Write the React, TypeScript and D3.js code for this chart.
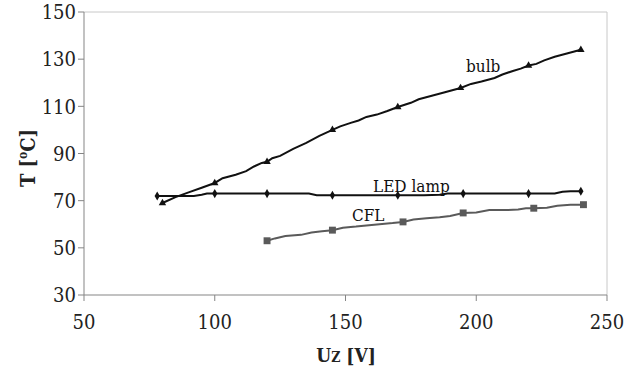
import React from "react";
import * as d3 from "d3";

const xTicks = [50, 100, 150, 200, 250];
const yTicks = [30, 50, 70, 90, 110, 130, 150];

const bulbU = [80, 85, 90, 95, 100, 103, 108, 112, 115, 118, 120, 122, 125, 130, 135, 140, 145, 148, 152, 155, 158, 162, 166, 170, 175, 178, 183, 188, 194, 198, 202, 207, 210, 214, 217, 220, 223, 226, 230, 235, 240];
const bulbT = [69, 71.5, 73.5, 75.5, 77.5, 79.5, 81, 82.5, 84.5, 86, 86.5, 88, 89, 92, 94.5, 97.5, 100, 101.5, 103, 104, 105.5, 106.5, 108, 109.7, 111.5, 113, 114.5, 116, 117.8, 119.5, 120.5, 122, 123.5, 125, 126, 127.3, 128, 129.5, 131, 132.5, 134];
const bulbMarkU = [80, 100, 120, 145, 170, 194, 220, 240];
const bulbMarkT = [69, 77.5, 86.5, 100, 109.7, 117.8, 127.3, 134];

const ledU = [78, 85, 92, 95, 97, 100, 110, 120, 130, 136, 139, 145, 155, 170, 180, 186, 189, 195, 210, 220, 230, 233, 236, 240];
const ledT = [72, 72, 72, 72.5, 73, 73, 73, 73, 73, 73, 72.3, 72.3, 72.3, 72.3, 72.3, 72.5, 73, 73, 73, 73, 73, 73.8, 74, 74];
const ledMarkU = [78, 100, 120, 145, 170, 195, 220, 240];
const ledMarkT = [72, 73, 73, 72.3, 72.3, 73, 73, 74];

const cflU = [120, 123, 127, 133, 137, 141, 145, 149, 154, 158, 163, 168, 172, 176, 181, 186, 190, 195, 200, 205, 212, 216, 219, 222, 227, 231, 236, 241];
const cflT = [53, 54, 55, 55.5, 56.5, 57, 57.5, 58.5, 59, 59.5, 60, 60.5, 61, 62, 62.5, 63, 63.5, 64.8, 65, 66, 66, 66.3, 66.8, 66.8, 67, 67.8, 68.3, 68.3];
const cflMarkU = [120, 145, 172, 195, 222, 241];
const cflMarkT = [53, 57.5, 61, 64.8, 66.8, 68.3];

const W = 632, H = 369;
const L = 84, R = 607, T = 12, B = 295;
const SERIF = "'DejaVu Serif Condensed', 'DejaVu Serif', serif";

export default function App() {
  const x = d3.scaleLinear().domain([50, 250]).range([L, R]);
  const y = d3.scaleLinear().domain([30, 150]).range([B, T]);
  const line = d3.line<[number, number]>().x(d => x(d[0])).y(d => y(d[1]));
  const zip = (a: number[], b: number[]) => a.map((v, i) => [v, b[i]] as [number, number]);
  const tri = d3.symbol().type(d3.symbolTriangle).size(24)();
  const dia = d3.symbol().type(d3.symbolDiamond).size(24)();
  const sq = d3.symbol().type(d3.symbolSquare).size(48)();

  return (
    <svg width={W} height={H} fontFamily={SERIF} fontStretch="condensed" style={{ position: "absolute", left: 0, top: 0, background: "#fff" }}>
      <rect x={0} y={0} width={W} height={H} fill="#fff" />
      <path d={`M${L},${T}H${R}V${B}`} fill="none" stroke="#c8c8c8" strokeWidth={1} />
      <line x1={L} x2={L} y1={T} y2={B} stroke="#858585" strokeWidth={1} />
      <line x1={L} x2={R} y1={B} y2={B} stroke="#858585" strokeWidth={1.2} />
      {yTicks.map(t => (
        <g key={"y" + t}>
          <line x1={L - 6} x2={L} y1={y(t)} y2={y(t)} stroke="#858585" />
          <text x={L - 8} y={y(t)} dy="0.36em" textAnchor="end" fontSize={20} fill="#222">{t}</text>
        </g>
      ))}
      {xTicks.map(t => (
        <g key={"x" + t}>
          <line x1={x(t)} x2={x(t)} y1={B} y2={B + 6} stroke="#858585" />
          <text x={x(t)} y={B + 34} textAnchor="middle" fontSize={20} fill="#222">{t}</text>
        </g>
      ))}
      <path d={line(zip(cflU, cflT)) || ""} fill="none" stroke="#5a5a5a" strokeWidth={2} />
      <path d={line(zip(ledU, ledT)) || ""} fill="none" stroke="#111" strokeWidth={2} />
      <path d={line(zip(bulbU, bulbT)) || ""} fill="none" stroke="#111" strokeWidth={2} />
      {zip(cflMarkU, cflMarkT).map((d, i) => (
        <path key={"c" + i} d={sq || ""} transform={`translate(${x(d[0])},${y(d[1])})`} fill="#5a5a5a" />
      ))}
      {zip(ledMarkU, ledMarkT).map((d, i) => (
        <path key={"l" + i} d={dia || ""} transform={`translate(${x(d[0])},${y(d[1])})`} fill="#111" />
      ))}
      {zip(bulbMarkU, bulbMarkT).map((d, i) => (
        <path key={"b" + i} d={tri || ""} transform={`translate(${x(d[0])},${y(d[1])})`} fill="#111" />
      ))}
      <text x={466} y={72} fontSize={17} fill="#111">bulb</text>
      <text x={373} y={192} fontSize={17} fill="#111">LED lamp</text>
      <text x={352} y={221} fontSize={17} fill="#111">CFL</text>
      <text x={346} y={362} textAnchor="middle" fontSize={19} fontWeight="bold" fill="#222">
        U<tspan fontSize={14}>Z</tspan> [V]
      </text>
      <text transform="translate(35,158) rotate(-90)" textAnchor="middle" fontSize={20} fontWeight="bold" fill="#222">
        T [<tspan fontSize={12} dy={-8}>o</tspan><tspan dy={8}>C]</tspan>
      </text>
    </svg>
  );
}
